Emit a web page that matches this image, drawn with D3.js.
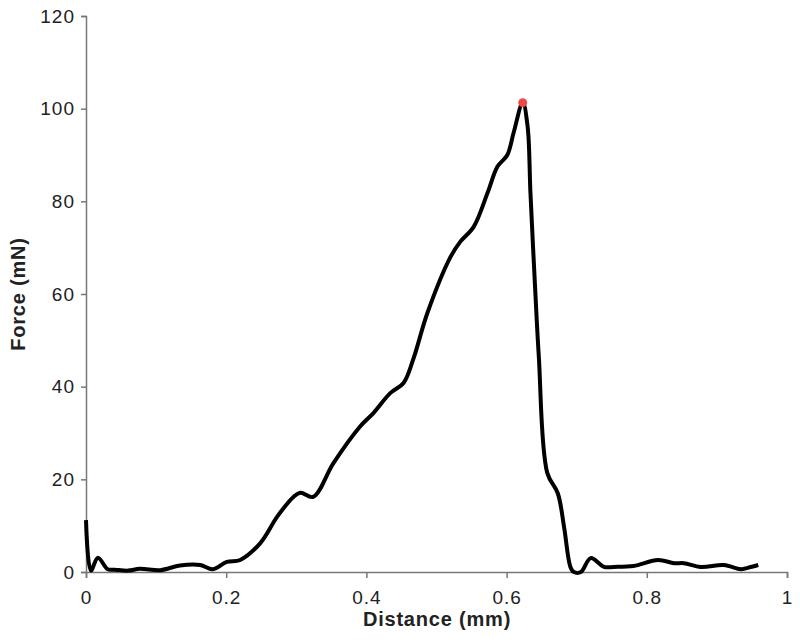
<!DOCTYPE html>
<html>
<head>
<meta charset="utf-8">
<script src="https://cdn.jsdelivr.net/npm/d3@7"></script>
<style>
  body { margin: 0; background: #fff; }
  text { font-family: "Liberation Sans", Arial, sans-serif; }
</style>
</head>
<body>
<svg id="chart"></svg>
<script>
// distance (mm) and force (mN)
const distance = [0, 0.007, 0.017, 0.031, 0.041, 0.06, 0.077, 0.106, 0.134, 0.163, 0.181, 0.201, 0.22, 0.249, 0.273, 0.296, 0.306, 0.324, 0.353, 0.391, 0.41, 0.434, 0.453, 0.467, 0.487, 0.52, 0.534, 0.553, 0.573, 0.587, 0.601, 0.61, 0.623, 0.63, 0.634, 0.641, 0.646, 0.658, 0.673, 0.682, 0.691, 0.696, 0.706, 0.72, 0.739, 0.753, 0.781, 0.816, 0.839, 0.853, 0.877, 0.91, 0.934, 0.944, 0.959];
const force = [11.2, 0.3, 3.1, 0.6, 0.5, 0.3, 0.7, 0.4, 1.4, 1.5, 0.6, 2.2, 2.6, 6.3, 12, 16.2, 17.1, 16.2, 23.5, 31.4, 34.3, 38.6, 40.8, 46, 55.9, 68, 71.3, 74.5, 81.9, 87.5, 90, 94.8, 101.3, 96.1, 81.9, 60.3, 46.4, 21.4, 17, 9.7, 1.1, 0, 0, 3, 1.1, 1.1, 1.3, 2.6, 1.9, 1.9, 1.1, 1.5, 0.6, 0.9, 1.5];
const xTicks = [0, 0.2, 0.4, 0.6, 0.8, 1];
const yTicks = [0, 20, 40, 60, 80, 100, 120];

const width = 800;
const height = 640;
const margin = { top: 16, right: 13, bottom: 68, left: 86 };

const svg = d3.select("#chart")
  .attr("width", width)
  .attr("height", height);

const x = d3.scaleLinear().domain([0, 1]).range([margin.left, width - margin.right]);
const y = d3.scaleLinear().domain([0, 120]).range([height - margin.bottom, margin.top]);

const xAxis = svg.append("g")
  .attr("transform", `translate(0,${height - margin.bottom})`)
  .call(d3.axisBottom(x).tickValues(xTicks).tickFormat(d3.format("")).tickSize(6).tickPadding(13));

const yAxis = svg.append("g")
  .attr("transform", `translate(${margin.left},0)`)
  .call(d3.axisLeft(y).tickValues(yTicks).tickSize(5).tickPadding(6));

[xAxis, yAxis].forEach(g => {
  g.select(".domain").attr("stroke", "#777").attr("stroke-width", 1.5);
  g.selectAll(".tick line").attr("stroke", "#777").attr("stroke-width", 1.5);
  g.selectAll(".tick text")
    .attr("fill", "#222")
    .style("font-size", "19px")
    .style("letter-spacing", "1px")
    .style("font-family", "'Liberation Sans', Arial, sans-serif");
});

// axis titles
svg.append("text")
  .attr("x", 437)
  .attr("y", 626)
  .attr("text-anchor", "middle")
  .style("font-size", "20px")
  .style("letter-spacing", "0.8px")
  .style("font-weight", "bold")
  .attr("fill", "#222")
  .text("Distance (mm)");

svg.append("text")
  .attr("transform", `translate(25,294) rotate(-90)`)
  .attr("text-anchor", "middle")
  .style("font-size", "20px")
  .style("letter-spacing", "0.8px")
  .style("font-weight", "bold")
  .attr("fill", "#222")
  .text("Force (mN)");

// force trace
const pts = distance.map((d, i) => [d, force[i]]);

const line = d3.line()
  .x(d => x(d[0]))
  .y(d => y(d[1]))
  .curve(d3.curveCatmullRom.alpha(0.5));

svg.append("path")
  .datum(pts)
  .attr("fill", "none")
  .attr("stroke", "#000")
  .attr("stroke-width", 4)
  .attr("stroke-linejoin", "round")
  .attr("d", line);

// peak marker
const peak = pts.reduce((a, b) => (b[1] > a[1] ? b : a));
svg.append("circle")
  .attr("cx", x(peak[0]))
  .attr("cy", y(peak[1]))
  .attr("r", 4.5)
  .attr("fill", "#f04848");
</script>
</body>
</html>
